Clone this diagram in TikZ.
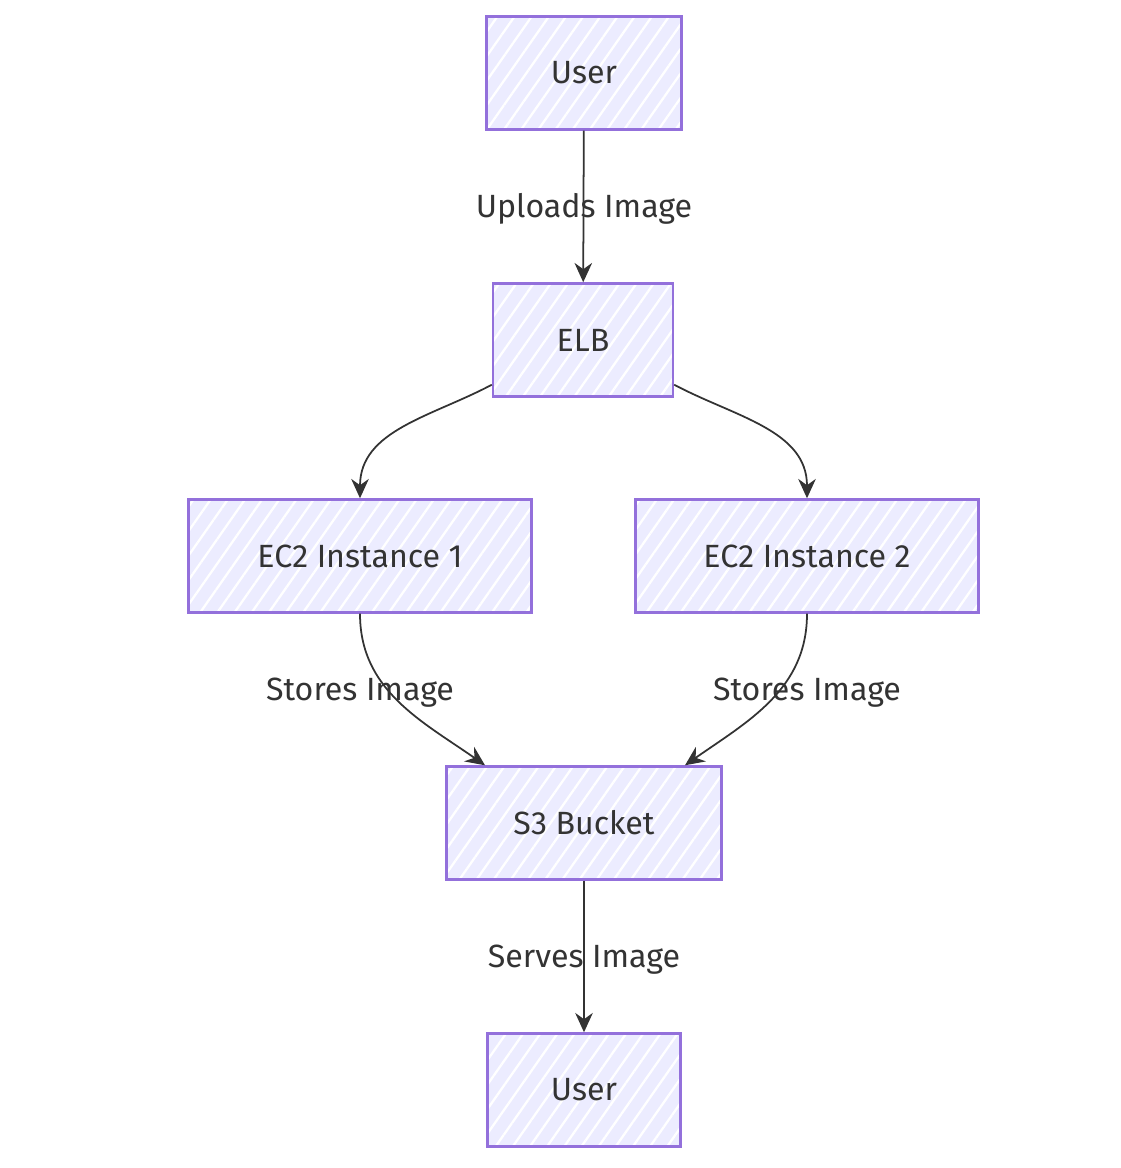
\documentclass[tikz,border=0pt]{standalone}
\usepackage{fontspec}
\setmainfont{Fira Sans}
\usetikzlibrary{arrows.meta,patterns.meta,positioning}
\definecolor{boxfill}{HTML}{ECECFF}
\definecolor{boxline}{HTML}{9370DB}
\definecolor{ink}{HTML}{333333}
\tikzset{
	box/.style={
			draw=boxline, line width=1.4pt,
			preaction={fill=boxfill},
			pattern={Lines[angle=55,distance=8pt,line width=1.3pt]}, pattern color=white,
			minimum height=2.26cm, text=ink, font=\fontsize{18.3}{22}\selectfont
		},
	flow/.style={draw=ink, line width=1pt, -{Stealth[length=11pt,width=10pt]}},
	lbl/.style={text=ink, font=\fontsize{18.3}{22}\selectfont}
}

\begin{document}
\begin{tikzpicture}
		\useasboundingbox (0,0) rectangle (22.4,-23.36);
		% boxes
		\node[box, minimum width=3.9cm] (user) at (11.68,-1.46) {User};
		\node[box, minimum width=3.6cm] (elb) at (11.66,-6.8) {ELB};
		\node[box, minimum width=6.86cm] (ec1) at (7.2,-11.12) {EC2 Instance 1};
		\node[box, minimum width=6.86cm] (ec2) at (16.14,-11.12) {EC2 Instance 2};
		\node[box, minimum width=5.5cm] (sss) at (11.68,-16.46) {S3 Bucket};
		\node[box, minimum width=3.86cm] (client) at (11.68,-21.8) {User};
		% edges
		\draw[flow] (user) -- (elb);
		\draw[flow] ([yshift=0.26cm]elb.south west) to[out=208, in=90] (ec1.north);
		\draw[flow] ([yshift=0.26cm]elb.south east) to[out=-28, in=90] (ec2.north);
		\draw[flow] (ec1.south) to[out=-90, in=145] ([xshift=-1.98cm]sss.north);
		\draw[flow] (ec2.south) to[out=-90, in=35] ([xshift=2.02cm]sss.north);
		\draw[flow] (sss) -- (client);
		% labels
		\node[lbl] (up) at (11.68,-4.18) {Uploads Image};
		\node[lbl] (st1) at (7.2,-13.86) {Stores Image};
		\node[lbl] (st2) at (16.14,-13.86) {Stores Image};
		\node[lbl] (sv) at (11.68,-19.2) {Serves Image};
	\end{tikzpicture}
\end{document}
